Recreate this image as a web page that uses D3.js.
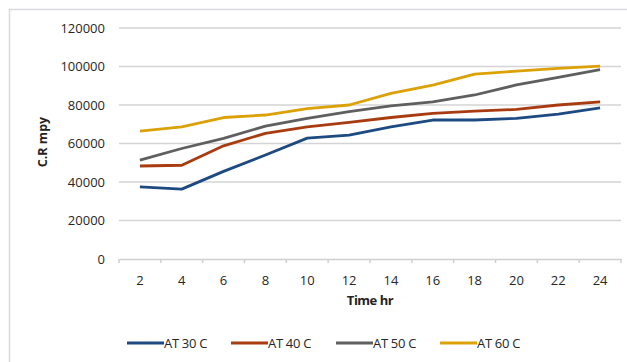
<!DOCTYPE html>
<html>
<head>
<meta charset="utf-8">
<script src="https://cdn.jsdelivr.net/npm/d3@7"></script>
<style>
body { margin: 0; background: #fff; }
text { font-family: "Open Sans", "Liberation Sans", sans-serif; }
</style>
</head>
<body>
<div id="chart"></div>
<script>
const width = 627, height = 362;

// data
const hours = ["2", "4", "6", "8", "10", "12", "14", "16", "18", "20", "22", "24"];
const at30 = [37500, 36300, 45500, 54000, 62800, 64400, 68600, 72200, 72200, 73100, 75300, 78500];
const at40 = [48300, 48700, 58800, 65300, 68600, 71000, 73500, 75700, 76800, 77700, 80000, 81600];
const at50 = [51400, 57400, 62700, 69000, 73000, 76500, 79500, 81600, 85200, 90400, 94400, 98400];
const at60 = [66400, 68600, 73500, 74800, 78100, 80000, 86000, 90300, 96000, 97600, 99000, 100200];
const seriesNames = ["AT 30 C", "AT 40 C", "AT 50 C", "AT 60 C"];
const seriesColors = ["#1d4a80", "#a83c10", "#5f5f5f", "#dba106"];
const yTicks = [0, 20000, 40000, 60000, 80000, 100000, 120000];

const allSeries = [at30, at40, at50, at60];

const svg = d3.select("#chart")
	.append("svg")
	.attr("width", width)
	.attr("height", height);

// frame
svg.append("rect")
	.attr("x", 9.5).attr("y", 9.5)
	.attr("width", 640).attr("height", 360)
	.style("fill", "none")
	.style("stroke", "#d9d9e0")
	.style("stroke-width", 1.5);

const x = d3.scaleBand().domain(hours).range([119, 621]);
const y = d3.scaleLinear().domain([0, 120000]).range([259, 28]);

// grid
svg.append("g")
	.selectAll("line")
	.data(yTicks.slice(1))
	.enter()
	.append("line")
	.attr("x1", 119).attr("x2", 621)
	.attr("y1", d => y(d)).attr("y2", d => y(d))
	.style("stroke", "#d4d4d4")
	.style("stroke-width", 1.5);

// y labels
svg.append("g")
	.selectAll("text")
	.data(yTicks)
	.enter()
	.append("text")
	.attr("x", 105)
	.attr("y", d => y(d) + 4.5)
	.attr("text-anchor", "end")
	.style("font-size", "13px")
	.style("fill", "#262626")
	.text(d => d);

// x axis
const xAxis = d3.axisBottom(x).tickSize(4).tickSizeOuter(0);
const gx = svg.append("g")
	.attr("transform", "translate(0,259)")
	.call(xAxis);
gx.select(".domain").style("stroke", "#cfcfcf").style("stroke-width", 1.5);
gx.selectAll(".tick line").remove();
gx.selectAll(".tick text")
	.attr("y", 17)
	.style("font-size", "13px")
	.style("font-family", "'Open Sans', sans-serif")
	.style("fill", "#262626");

// tick marks between categories
const edges = d3.range(hours.length + 1).map(i => 119 + i * x.step());
gx.append("g")
	.selectAll("line")
	.data(edges)
	.enter()
	.append("line")
	.attr("x1", d => d).attr("x2", d => d)
	.attr("y1", 0).attr("y2", 4)
	.style("stroke", "#cfcfcf")
	.style("stroke-width", 1.5);

// lines
const line = d3.line()
	.x((d, i) => x(hours[i]) + x.bandwidth() / 2)
	.y(d => y(d));

svg.append("g")
	.selectAll("path")
	.data(allSeries)
	.enter()
	.append("path")
	.attr("d", line)
	.style("fill", "none")
	.style("stroke", (d, i) => seriesColors[i])
	.style("stroke-width", 2.8)
	.style("stroke-linejoin", "round");

// axis titles
svg.append("text")
	.attr("transform", "translate(47,142) rotate(-90)")
	.attr("text-anchor", "middle")
	.style("font-size", "12.5px")
	.style("font-weight", "bold")
	.style("fill", "#222")
	.text("C.R mpy");

svg.append("text")
	.attr("x", 370)
	.attr("y", 305)
	.attr("text-anchor", "middle")
	.style("font-size", "13px")
	.style("font-weight", "bold")
	.style("fill", "#222")
	.style("letter-spacing", "-0.5px")
	.text("Time hr");

// legend
const legX = [127, 231, 336, 440];
const leg = svg.append("g")
	.selectAll("g")
	.data(seriesNames)
	.enter()
	.append("g")
	.attr("transform", (d, i) => "translate(" + legX[i] + ",343)");

leg.append("line")
	.attr("x1", 0).attr("x2", 37)
	.attr("y1", 0).attr("y2", 0)
	.style("stroke", (d, i) => seriesColors[i])
	.style("stroke-width", 2.8);

leg.append("text")
	.attr("x", 37)
	.attr("y", 5)
	.style("font-size", "13px")
	.style("fill", "#262626")
	.style("letter-spacing", "-0.3px")
	.text(d => d);
</script>
</body>
</html>
